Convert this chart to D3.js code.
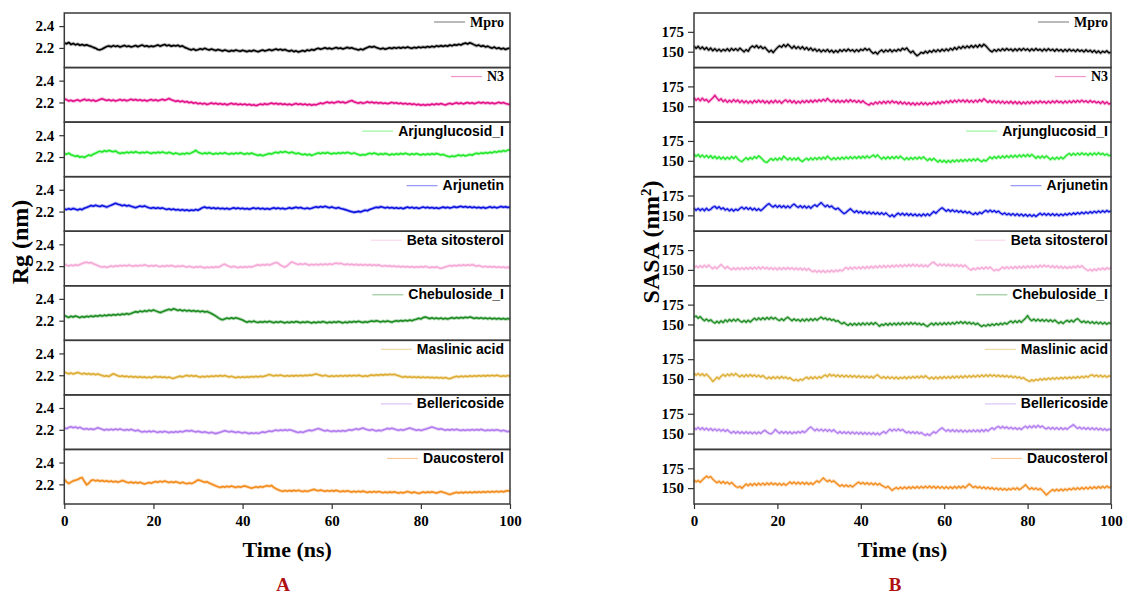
<!DOCTYPE html>
<html>
<head>
<meta charset="utf-8">
<script src="https://cdn.jsdelivr.net/npm/d3@7"></script>
<style>
  body { margin: 0; background: #fff; }
  svg { display: block; }
</style>
</head>
<body>
<svg id="chart" width="1123" height="594"></svg>
<script>
// Systems shown in each stacked row (top to bottom)
const compounds = ["Mpro", "N3", "Arjunglucosid_I", "Arjunetin", "Beta sitosterol",
                   "Chebuloside_I", "Maslinic acid", "Bellericoside", "Daucosterol"];
const seriesColors = ["#000000", "#e3128a", "#22e82a", "#0c12e0", "#f5a9d6",
                      "#1c8c20", "#ddad33", "#b27cee", "#f38b1c"];

const timeTicks = [0, 20, 40, 60, 80, 100];
const rgTicks = [2.2, 2.4];
const sasaTicks = [150, 175];
const timeStepNs = 0.5; // one frame every 0.5 ns, 0 to 100 ns

// Radius of gyration (nm)
const rgMpro = [2.245,2.238,2.250,2.232,2.241,2.228,2.236,2.224,2.231,2.222,2.228,
2.220,2.214,2.205,2.198,2.186,2.182,2.190,2.201,2.212,2.218,
2.210,2.221,2.213,2.219,2.208,2.216,2.223,2.212,2.218,2.209,
2.215,2.222,2.211,2.220,2.226,2.214,2.219,2.210,2.217,2.212,
2.219,2.227,2.216,2.224,2.231,2.220,2.226,2.215,2.223,2.218,
2.224,2.212,2.219,2.205,2.198,2.188,2.182,2.190,2.178,2.184,
2.192,2.185,2.196,2.188,2.181,2.190,2.183,2.176,2.185,2.179,
2.172,2.181,2.175,2.168,2.177,2.171,2.180,2.174,2.169,2.178,
2.172,2.166,2.175,2.169,2.178,2.171,2.165,2.174,2.180,2.172,
2.178,2.185,2.176,2.183,2.190,2.181,2.187,2.179,2.186,2.176,
2.170,2.178,2.166,2.173,2.162,2.169,2.176,2.168,2.181,2.175,
2.186,2.179,2.190,2.197,2.188,2.194,2.201,2.192,2.198,2.190,
2.196,2.203,2.194,2.200,2.191,2.198,2.205,2.196,2.202,2.193,
2.188,2.181,2.190,2.183,2.195,2.204,2.212,2.206,2.214,2.203,
2.196,2.190,2.198,2.188,2.195,2.201,2.194,2.203,2.197,2.205,
2.198,2.206,2.200,2.209,2.201,2.196,2.205,2.199,2.208,2.202,
2.209,2.203,2.212,2.206,2.215,2.208,2.219,2.212,2.221,2.214,
2.222,2.215,2.226,2.219,2.230,2.224,2.233,2.227,2.238,2.244,
2.236,2.247,2.239,2.228,2.219,2.226,2.214,2.221,2.209,2.216,
2.205,2.198,2.208,2.194,2.201,2.189,2.197,2.186,2.194,2.198];

const rgN3 = [2.233,2.226,2.214,2.220,2.211,2.218,2.224,2.213,2.221,2.229,2.219,
2.226,2.215,2.222,2.212,2.219,2.228,2.234,2.226,2.218,2.225,
2.216,2.223,2.214,2.220,2.227,2.218,2.224,2.215,2.222,2.230,
2.221,2.228,2.218,2.225,2.216,2.222,2.213,2.220,2.227,2.217,
2.224,2.215,2.222,2.229,2.220,2.227,2.236,2.225,2.218,2.210,
2.216,2.207,2.213,2.203,2.209,2.198,2.204,2.193,2.199,2.188,
2.194,2.185,2.192,2.181,2.188,2.196,2.187,2.193,2.184,2.190,
2.181,2.188,2.178,2.185,2.192,2.183,2.189,2.180,2.187,2.179,
2.186,2.177,2.183,2.174,2.180,2.171,2.178,2.186,2.180,2.189,
2.181,2.188,2.195,2.186,2.192,2.183,2.190,2.181,2.187,2.179,
2.185,2.177,2.184,2.191,2.182,2.188,2.179,2.186,2.177,2.183,
2.175,2.182,2.178,2.187,2.195,2.188,2.197,2.204,2.196,2.203,
2.195,2.202,2.208,2.199,2.205,2.196,2.203,2.212,2.218,2.207,
2.199,2.193,2.201,2.192,2.198,2.206,2.197,2.204,2.195,2.201,
2.192,2.199,2.190,2.196,2.188,2.194,2.201,2.192,2.198,2.189,
2.195,2.186,2.192,2.184,2.190,2.181,2.187,2.178,2.184,2.175,
2.181,2.174,2.182,2.176,2.186,2.179,2.188,2.181,2.190,2.183,
2.177,2.185,2.192,2.184,2.191,2.198,2.189,2.196,2.187,2.194,
2.200,2.191,2.198,2.189,2.196,2.203,2.194,2.201,2.192,2.199,
2.190,2.197,2.188,2.195,2.202,2.193,2.199,2.190,2.186,2.178];

const rgArjunglucosid = [2.232,2.225,2.236,2.221,2.214,2.206,2.212,2.198,2.205,2.196,2.208,
2.219,2.212,2.226,2.234,2.245,2.252,2.246,2.258,2.250,2.261,
2.254,2.248,2.256,2.241,2.233,2.240,2.236,2.245,2.238,2.247,
2.240,2.249,2.242,2.236,2.244,2.238,2.247,2.240,2.233,2.242,
2.236,2.245,2.238,2.247,2.240,2.234,2.243,2.236,2.228,2.237,
2.230,2.224,2.233,2.227,2.236,2.229,2.238,2.248,2.262,2.244,
2.236,2.229,2.238,2.231,2.240,2.233,2.226,2.235,2.228,2.237,
2.230,2.239,2.232,2.226,2.235,2.228,2.237,2.230,2.239,2.232,
2.225,2.234,2.227,2.236,2.228,2.221,2.215,2.222,2.212,2.219,
2.226,2.233,2.227,2.238,2.244,2.237,2.249,2.242,2.251,2.243,
2.236,2.245,2.238,2.230,2.236,2.228,2.221,2.227,2.218,2.225,
2.214,2.222,2.230,2.238,2.231,2.240,2.233,2.242,2.235,2.228,
2.237,2.230,2.239,2.232,2.241,2.234,2.243,2.236,2.229,2.238,
2.230,2.222,2.216,2.223,2.218,2.227,2.234,2.228,2.236,2.229,
2.222,2.231,2.224,2.233,2.226,2.219,2.228,2.221,2.230,2.224,
2.233,2.226,2.235,2.228,2.221,2.230,2.223,2.232,2.225,2.218,
2.227,2.220,2.229,2.222,2.231,2.224,2.233,2.226,2.219,2.224,
2.215,2.208,2.202,2.210,2.204,2.212,2.219,2.211,2.218,2.210,
2.217,2.224,2.216,2.228,2.235,2.229,2.238,2.232,2.241,2.235,
2.244,2.238,2.250,2.243,2.254,2.248,2.259,2.252,2.263,2.268];

const rgArjunetin = [2.224,2.218,2.227,2.220,2.229,2.222,2.215,2.224,2.218,2.231,2.238,
2.246,2.255,2.249,2.258,2.252,2.246,2.255,2.248,2.241,2.250,
2.258,2.267,2.276,2.268,2.262,2.254,2.260,2.251,2.257,2.248,
2.242,2.236,2.244,2.251,2.245,2.252,2.243,2.236,2.230,2.237,
2.229,2.236,2.228,2.234,2.226,2.219,2.226,2.217,2.223,2.214,
2.220,2.211,2.218,2.209,2.216,2.208,2.215,2.210,2.219,2.212,
2.224,2.236,2.242,2.233,2.238,2.229,2.235,2.227,2.233,2.225,
2.231,2.223,2.230,2.222,2.228,2.235,2.227,2.233,2.225,2.231,
2.223,2.229,2.221,2.228,2.234,2.226,2.232,2.224,2.230,2.222,
2.229,2.221,2.228,2.235,2.227,2.233,2.225,2.231,2.223,2.229,
2.236,2.228,2.234,2.240,2.232,2.238,2.230,2.226,2.233,2.225,
2.231,2.238,2.244,2.237,2.246,2.240,2.248,2.241,2.235,2.243,
2.236,2.230,2.237,2.229,2.224,2.218,2.212,2.204,2.199,2.193,
2.197,2.202,2.196,2.205,2.213,2.208,2.219,2.226,2.233,2.240,
2.236,2.245,2.239,2.233,2.240,2.232,2.238,2.230,2.236,2.229,
2.235,2.227,2.234,2.241,2.233,2.239,2.231,2.237,2.229,2.235,
2.242,2.234,2.240,2.232,2.238,2.230,2.236,2.228,2.235,2.241,
2.234,2.240,2.232,2.238,2.245,2.237,2.243,2.248,2.240,2.246,
2.238,2.244,2.236,2.242,2.234,2.240,2.232,2.239,2.231,2.237,
2.244,2.236,2.242,2.234,2.240,2.247,2.239,2.245,2.237,2.243];

const rgBetaSitosterol = [2.218,2.209,2.201,2.210,2.203,2.212,2.206,2.215,2.224,2.232,2.236,
2.228,2.234,2.222,2.214,2.205,2.197,2.190,2.196,2.188,2.195,
2.202,2.195,2.204,2.198,2.207,2.201,2.209,2.202,2.211,2.204,
2.198,2.207,2.200,2.209,2.203,2.212,2.205,2.198,2.206,2.200,
2.208,2.201,2.195,2.203,2.197,2.205,2.199,2.207,2.200,2.194,
2.202,2.196,2.204,2.197,2.191,2.199,2.193,2.187,2.195,2.189,
2.196,2.190,2.184,2.192,2.186,2.193,2.187,2.195,2.189,2.198,
2.212,2.218,2.206,2.197,2.190,2.198,2.192,2.186,2.194,2.188,
2.195,2.189,2.196,2.191,2.199,2.207,2.213,2.206,2.215,2.209,
2.217,2.210,2.218,2.226,2.234,2.226,2.210,2.198,2.191,2.203,
2.222,2.238,2.231,2.221,2.214,2.222,2.215,2.223,2.216,2.209,
2.217,2.210,2.218,2.211,2.219,2.212,2.220,2.213,2.221,2.215,
2.222,2.228,2.221,2.227,2.219,2.213,2.220,2.212,2.218,2.210,
2.217,2.209,2.216,2.208,2.215,2.207,2.214,2.206,2.213,2.205,
2.212,2.204,2.199,2.206,2.198,2.204,2.196,2.202,2.194,2.200,
2.192,2.199,2.191,2.197,2.190,2.196,2.188,2.195,2.189,2.197,
2.190,2.198,2.192,2.186,2.193,2.187,2.194,2.185,2.179,2.186,
2.193,2.199,2.206,2.200,2.208,2.202,2.210,2.204,2.212,2.205,
2.213,2.206,2.214,2.207,2.199,2.206,2.198,2.192,2.199,2.191,
2.197,2.190,2.196,2.188,2.194,2.187,2.193,2.185,2.191,2.184];

const rgChebuloside = [2.248,2.238,2.230,2.241,2.233,2.243,2.236,2.228,2.238,2.231,2.241,
2.235,2.244,2.237,2.246,2.240,2.249,2.242,2.251,2.245,2.254,
2.248,2.257,2.250,2.259,2.253,2.262,2.256,2.265,2.258,2.267,
2.275,2.283,2.277,2.288,2.281,2.292,2.285,2.296,2.289,2.298,
2.290,2.282,2.274,2.281,2.290,2.297,2.304,2.297,2.310,2.302,
2.294,2.301,2.290,2.297,2.288,2.295,2.286,2.293,2.284,2.290,
2.281,2.288,2.279,2.285,2.276,2.266,2.255,2.242,2.228,2.215,
2.208,2.216,2.224,2.218,2.226,2.219,2.227,2.221,2.214,2.206,
2.195,2.186,2.194,2.188,2.196,2.189,2.183,2.191,2.185,2.193,
2.186,2.194,2.188,2.182,2.190,2.184,2.192,2.186,2.180,2.188,
2.182,2.190,2.184,2.193,2.187,2.181,2.189,2.183,2.191,2.185,
2.179,2.187,2.181,2.189,2.183,2.192,2.186,2.180,2.188,2.182,
2.190,2.184,2.192,2.186,2.180,2.188,2.182,2.191,2.185,2.193,
2.187,2.195,2.189,2.183,2.191,2.185,2.193,2.198,2.192,2.200,
2.194,2.188,2.196,2.190,2.198,2.192,2.186,2.194,2.200,2.194,
2.202,2.196,2.204,2.198,2.206,2.200,2.208,2.214,2.222,2.216,
2.228,2.234,2.226,2.219,2.226,2.218,2.225,2.217,2.224,2.216,
2.223,2.215,2.222,2.228,2.221,2.229,2.222,2.230,2.224,2.232,
2.226,2.234,2.228,2.221,2.228,2.220,2.227,2.219,2.225,2.217,
2.224,2.216,2.223,2.215,2.222,2.214,2.221,2.213,2.220,2.214];

const rgMaslinic = [2.230,2.221,2.213,2.220,2.212,2.219,2.226,2.218,2.211,2.218,2.209,
2.216,2.207,2.214,2.205,2.212,2.204,2.197,2.190,2.196,2.188,
2.203,2.214,2.205,2.196,2.189,2.195,2.186,2.192,2.184,2.190,
2.182,2.188,2.180,2.187,2.179,2.185,2.177,2.184,2.176,2.183,
2.189,2.181,2.187,2.179,2.185,2.177,2.183,2.175,2.171,2.179,
2.186,2.192,2.185,2.193,2.199,2.191,2.198,2.190,2.196,2.188,
2.182,2.190,2.184,2.192,2.186,2.194,2.188,2.196,2.190,2.197,
2.191,2.198,2.190,2.184,2.191,2.183,2.178,2.185,2.179,2.186,
2.180,2.187,2.181,2.189,2.183,2.190,2.184,2.192,2.186,2.194,
2.199,2.206,2.200,2.194,2.201,2.195,2.202,2.196,2.190,2.197,
2.191,2.198,2.192,2.199,2.193,2.200,2.194,2.201,2.196,2.203,
2.199,2.207,2.212,2.205,2.199,2.193,2.200,2.194,2.188,2.195,
2.189,2.196,2.190,2.197,2.191,2.198,2.192,2.199,2.193,2.200,
2.194,2.201,2.195,2.189,2.196,2.190,2.197,2.203,2.197,2.204,
2.199,2.206,2.201,2.208,2.203,2.210,2.204,2.209,2.202,2.196,
2.188,2.182,2.189,2.181,2.187,2.180,2.186,2.179,2.185,2.178,
2.184,2.177,2.183,2.176,2.182,2.175,2.181,2.174,2.180,2.173,
2.179,2.172,2.168,2.176,2.183,2.190,2.184,2.192,2.186,2.193,
2.187,2.195,2.189,2.196,2.190,2.197,2.191,2.198,2.192,2.199,
2.193,2.200,2.194,2.201,2.195,2.189,2.196,2.190,2.197,2.191];

const rgBellericoside = [2.218,2.210,2.222,2.228,2.219,2.226,2.215,2.223,2.211,2.204,2.211,
2.203,2.210,2.202,2.209,2.219,2.212,2.204,2.197,2.205,2.198,
2.206,2.199,2.207,2.200,2.208,2.201,2.195,2.203,2.196,2.204,
2.197,2.190,2.198,2.186,2.179,2.186,2.180,2.188,2.181,2.189,
2.182,2.176,2.184,2.178,2.186,2.180,2.174,2.182,2.176,2.184,
2.178,2.186,2.180,2.188,2.193,2.187,2.194,2.186,2.180,2.187,
2.181,2.175,2.182,2.176,2.170,2.177,2.171,2.165,2.172,2.178,
2.185,2.192,2.186,2.180,2.187,2.181,2.175,2.182,2.176,2.170,
2.177,2.171,2.165,2.172,2.166,2.173,2.167,2.174,2.181,2.175,
2.183,2.190,2.184,2.192,2.198,2.192,2.199,2.193,2.200,2.194,
2.201,2.195,2.188,2.181,2.175,2.182,2.176,2.184,2.191,2.197,
2.191,2.198,2.205,2.212,2.204,2.196,2.190,2.197,2.190,2.184,
2.191,2.185,2.192,2.186,2.193,2.187,2.194,2.201,2.195,2.203,
2.209,2.202,2.210,2.216,2.208,2.201,2.195,2.202,2.196,2.190,
2.197,2.191,2.198,2.205,2.213,2.207,2.215,2.208,2.201,2.195,
2.202,2.196,2.203,2.210,2.216,2.209,2.202,2.195,2.201,2.194,
2.200,2.206,2.212,2.219,2.226,2.218,2.211,2.204,2.210,2.203,
2.196,2.203,2.197,2.204,2.198,2.205,2.199,2.193,2.200,2.194,
2.201,2.195,2.202,2.196,2.203,2.197,2.204,2.198,2.192,2.199,
2.193,2.200,2.194,2.201,2.195,2.188,2.195,2.189,2.183,2.187];

const rgDaucosterol = [2.248,2.222,2.208,2.220,2.232,2.238,2.244,2.256,2.262,2.228,2.196,
2.210,2.235,2.241,2.232,2.238,2.229,2.236,2.227,2.233,2.224,
2.231,2.222,2.229,2.220,2.227,2.236,2.228,2.220,2.214,2.221,
2.213,2.220,2.212,2.219,2.211,2.204,2.210,2.217,2.211,2.219,
2.226,2.219,2.228,2.222,2.230,2.223,2.216,2.224,2.217,2.225,
2.218,2.211,2.219,2.212,2.206,2.213,2.207,2.215,2.228,2.241,
2.235,2.227,2.219,2.224,2.213,2.204,2.195,2.186,2.178,2.172,
2.180,2.174,2.182,2.176,2.184,2.178,2.172,2.180,2.174,2.181,
2.186,2.179,2.172,2.165,2.171,2.178,2.172,2.180,2.174,2.182,
2.188,2.182,2.190,2.172,2.160,2.150,2.142,2.136,2.143,2.137,
2.144,2.138,2.145,2.139,2.146,2.140,2.134,2.141,2.135,2.142,
2.148,2.154,2.147,2.141,2.148,2.142,2.136,2.143,2.137,2.144,
2.138,2.145,2.139,2.133,2.140,2.134,2.141,2.135,2.129,2.136,
2.130,2.137,2.131,2.138,2.132,2.126,2.133,2.127,2.134,2.128,
2.135,2.129,2.123,2.130,2.124,2.131,2.125,2.132,2.126,2.120,
2.127,2.121,2.128,2.134,2.128,2.122,2.129,2.123,2.117,2.124,
2.130,2.124,2.131,2.125,2.132,2.126,2.120,2.127,2.134,2.128,
2.121,2.114,2.108,2.115,2.121,2.127,2.121,2.128,2.122,2.129,
2.123,2.130,2.124,2.131,2.125,2.132,2.126,2.133,2.127,2.134,
2.128,2.135,2.129,2.136,2.130,2.137,2.131,2.138,2.142,2.139];

// Solvent accessible surface area (nm^2)
const sasaMpro = [157.2,154.1,156.8,153.5,155.9,152.8,155.3,151.9,154.6,151.2,153.8,
150.9,153.2,150.4,152.9,151.1,153.7,150.8,154.2,151.6,153.9,
151.3,154.5,152.2,149.8,152.6,150.4,155.1,157.3,155.2,157.8,
154.6,156.9,153.8,155.7,152.4,149.6,151.8,148.9,152.3,155.1,
157.4,155.6,158.9,156.2,159.3,156.8,154.2,157.1,153.9,156.4,
153.5,156.2,152.8,155.4,152.1,154.7,151.3,153.6,150.4,152.8,
149.7,152.3,150.1,152.9,149.5,151.8,148.9,151.6,149.2,152.4,
150.3,152.9,150.6,153.3,150.8,152.4,149.9,152.6,150.2,153.1,
151.5,154.2,151.8,153.6,150.1,147.8,149.6,146.9,150.3,152.1,
149.4,152.2,150.1,152.7,149.8,152.3,150.5,153.1,151.2,154.3,
152.4,154.8,151.2,148.6,150.9,147.3,144.8,146.9,149.2,147.8,
150.6,148.4,151.2,149.3,152.1,149.8,152.6,150.2,153.0,150.7,
153.4,151.1,154.2,152.0,155.3,152.8,156.1,153.9,156.8,154.5,
157.2,154.9,157.8,155.3,158.1,155.6,158.7,156.2,159.4,157.1,
154.2,151.3,149.8,152.6,150.4,153.2,151.0,153.8,151.5,154.1,
151.8,153.4,150.9,153.6,151.2,153.9,151.5,154.2,151.7,153.5,
150.9,153.6,151.3,154.0,151.6,153.2,150.8,153.5,151.1,153.8,
151.4,153.1,150.6,153.3,150.9,152.7,150.2,152.9,150.5,153.2,
150.8,152.5,150.1,152.8,150.4,152.1,149.7,152.4,150.0,151.8,
149.3,151.6,148.7,150.9,148.2,150.6,149.1,151.2,148.4,149.6];

const sasaN3 = [160.8,157.4,159.9,156.8,160.2,157.1,158.6,155.3,157.9,160.4,163.8,
160.2,157.1,159.4,155.8,158.1,154.9,157.6,155.2,158.3,155.7,
157.9,154.6,157.2,154.3,156.8,153.9,156.5,154.1,157.3,154.8,
157.6,154.9,157.2,154.1,156.7,153.8,156.9,154.2,157.5,154.6,
156.8,153.7,156.3,158.1,155.2,157.6,154.4,156.9,153.8,156.4,
154.1,157.0,154.5,157.3,154.8,157.6,155.1,157.9,155.6,158.2,
156.1,158.7,156.4,159.8,157.2,155.4,157.8,155.1,157.6,154.9,
157.3,155.0,157.8,155.3,158.1,155.6,157.4,154.8,157.2,154.5,
156.9,154.2,152.8,151.5,154.1,152.3,155.2,153.1,155.8,153.4,
156.2,153.7,156.5,154.0,156.8,154.3,155.9,153.2,155.6,152.9,
155.1,152.4,154.7,151.9,154.3,151.6,154.1,152.0,154.8,152.2,
154.5,151.8,154.2,152.5,155.1,152.8,155.6,153.2,156.1,153.9,
156.6,154.3,157.2,154.8,157.6,155.2,158.0,155.6,157.9,155.3,
157.8,155.1,157.4,154.9,157.7,155.3,158.2,156.0,159.4,157.1,
154.8,157.2,154.5,156.9,154.2,156.7,153.9,156.4,153.6,156.1,
153.8,156.3,153.5,155.9,153.2,155.7,152.9,155.4,153.1,155.8,
153.4,156.0,153.7,156.3,154.0,156.6,154.3,156.1,153.8,156.4,
154.1,156.7,154.4,157.0,154.6,156.3,153.9,156.5,154.2,156.8,
154.5,157.1,154.8,157.4,155.1,157.7,155.3,156.9,154.6,157.2,
154.9,156.5,154.2,155.8,153.5,156.1,153.2,155.4,152.7,154.1];

const sasaArjunglucosid = [158.3,155.6,157.9,154.8,157.2,154.3,156.8,153.9,156.4,153.2,155.7,
152.6,155.1,152.3,154.7,151.9,154.4,152.1,155.3,152.8,155.6,
152.4,150.1,148.9,151.6,153.8,151.4,154.2,152.1,155.3,153.0,
156.2,154.1,151.3,148.7,147.9,150.6,152.8,150.5,153.2,150.8,
153.6,151.2,155.8,153.4,151.1,153.7,150.9,153.4,151.1,153.8,
150.6,148.9,151.4,153.2,150.8,153.5,151.2,154.0,151.7,154.3,
151.9,154.6,152.3,155.9,153.4,151.2,153.8,151.5,154.1,151.8,
154.5,152.1,154.8,152.4,155.1,152.7,155.3,152.9,155.6,153.2,
155.8,153.4,156.1,153.7,155.4,157.2,154.8,157.5,154.6,152.1,
154.7,152.3,155.0,152.6,155.2,152.8,155.5,153.1,155.8,153.4,
151.2,153.8,151.5,154.1,151.8,154.4,152.1,154.7,152.4,155.0,
152.6,150.2,152.9,150.5,153.1,150.8,148.4,150.9,148.3,150.6,
147.8,150.4,148.1,150.9,148.6,151.2,148.9,151.5,149.2,151.8,
149.5,152.1,149.8,152.4,150.1,152.7,150.4,148.9,151.2,149.6,
152.3,154.8,152.5,155.3,153.0,155.7,153.4,156.1,153.8,156.4,
154.0,156.7,154.3,157.0,154.6,157.3,154.9,157.6,155.2,157.9,
155.4,158.1,155.7,153.2,155.8,153.4,156.0,153.6,156.2,153.8,
151.5,154.1,151.8,154.4,152.1,154.7,152.4,155.0,157.6,159.2,
156.8,159.4,157.1,159.7,157.4,160.0,157.7,159.3,156.9,159.5,
157.2,159.8,157.5,160.1,157.8,159.4,157.0,158.6,156.3,157.8];

const sasaArjunetin = [159.1,156.4,158.8,156.1,158.5,155.8,158.9,156.3,157.7,160.2,161.4,
158.6,160.9,157.8,159.5,156.7,158.3,155.6,157.9,155.4,157.8,
156.2,158.7,160.4,157.8,160.1,157.5,159.6,156.8,158.9,156.2,
158.4,155.9,158.1,160.6,163.1,164.8,162.2,160.4,162.8,160.1,
162.4,159.8,162.1,159.6,161.9,159.4,162.3,164.2,161.7,159.9,
162.1,159.5,161.8,159.3,161.6,159.0,161.4,163.3,161.2,163.8,
166.1,163.2,160.8,162.9,160.3,161.8,159.1,157.6,159.2,156.8,
154.3,152.1,153.8,156.2,158.4,155.9,153.6,155.8,153.2,155.1,
152.6,154.7,152.1,154.4,151.8,153.9,151.5,153.6,151.2,153.4,
150.9,153.1,150.6,148.4,150.7,148.2,150.9,152.8,150.4,152.6,
150.1,152.3,149.8,152.0,149.6,151.8,149.3,151.5,149.1,151.7,
149.4,151.9,149.6,152.4,154.9,152.6,155.3,157.8,159.6,157.4,
155.1,157.3,154.8,156.9,154.5,156.2,153.9,155.8,153.4,155.2,
152.8,154.6,152.3,151.1,153.4,151.2,153.9,152.1,154.6,156.3,
154.1,156.6,154.3,156.0,153.7,155.4,152.9,151.3,153.0,150.6,
152.4,150.1,152.2,149.8,151.9,149.5,151.6,149.2,151.3,148.9,
151.0,148.7,150.8,148.5,150.6,152.7,150.3,152.4,150.1,152.2,
149.9,152.0,149.7,151.8,149.5,151.6,149.8,152.1,150.3,152.6,
150.8,153.1,151.2,153.5,151.6,153.9,152.0,154.3,152.4,154.7,
152.8,155.1,153.2,155.5,153.6,155.9,153.9,156.2,154.4,155.6];

const sasaBetaSitosterol = [152.5,155.1,152.8,155.4,153.1,155.9,153.4,156.1,153.6,151.4,153.9,
151.6,154.2,156.8,154.1,151.8,154.3,151.9,150.2,152.6,150.3,
152.8,150.5,152.9,150.6,153.1,150.8,153.3,150.9,153.4,151.1,
153.6,151.2,153.8,151.4,153.1,150.7,152.9,150.4,152.6,150.2,
152.7,150.4,152.9,150.6,153.1,150.7,152.8,150.3,152.5,150.1,
152.3,149.8,152.1,149.5,151.8,149.2,147.6,149.4,147.1,149.3,
147.0,149.2,146.8,149.1,147.3,149.6,147.5,149.8,147.9,150.2,
148.6,151.1,153.2,150.8,153.4,151.0,153.6,151.3,153.8,151.5,
154.1,151.8,154.4,152.1,154.7,152.4,155.0,152.6,155.2,152.9,
155.5,153.1,155.7,153.3,155.9,153.6,156.2,153.8,156.4,154.0,
156.6,154.2,156.9,154.5,157.1,154.7,156.8,154.3,156.5,154.1,
156.3,154.0,156.6,158.8,159.9,157.2,155.3,157.5,155.1,157.3,
154.9,157.1,154.7,156.9,154.5,156.7,154.3,156.4,153.9,156.1,
153.5,151.2,149.8,152.1,150.3,152.7,151.0,153.4,151.2,153.6,
151.4,153.8,151.1,148.9,150.6,149.2,151.5,153.6,151.4,153.9,
151.6,154.1,151.8,154.3,152.0,154.5,152.2,154.7,152.4,154.9,
152.6,155.1,152.8,155.3,153.0,155.8,153.5,156.1,153.8,155.4,
152.9,155.2,152.7,154.9,152.4,154.6,152.1,154.3,151.9,154.1,
152.3,154.6,152.6,155.2,153.1,155.4,152.8,150.6,148.9,150.8,
148.7,151.2,149.3,151.8,150.1,152.4,150.2,152.7,151.1,153.0];

const sasaChebuloside = [159.4,160.6,157.8,159.9,156.9,154.6,156.8,154.2,155.9,153.4,151.6,
154.1,151.9,154.6,152.3,155.8,153.4,156.2,154.0,156.5,154.2,
156.8,154.4,152.9,155.1,152.8,155.3,153.0,155.6,157.8,155.5,
158.1,155.9,158.4,156.2,158.8,156.5,159.1,156.8,158.6,156.2,
154.8,157.3,154.9,157.5,159.2,156.8,154.6,157.1,154.8,156.4,
154.1,156.6,154.3,156.9,154.6,157.2,154.9,157.4,155.2,157.6,
159.3,156.8,158.2,155.7,157.4,155.1,156.3,153.8,154.9,152.4,
150.8,152.6,150.3,148.9,151.2,149.0,151.4,149.1,151.6,149.3,
151.8,149.5,152.0,149.7,152.2,149.9,152.4,150.1,147.8,150.2,
148.9,151.3,149.0,151.5,149.2,151.7,149.4,151.9,149.6,152.1,
149.8,152.3,150.0,152.5,150.2,152.2,149.9,151.6,149.3,151.0,
148.7,147.4,149.8,151.6,149.3,151.8,149.5,152.0,149.7,152.2,
149.9,152.4,150.1,152.6,150.4,153.1,151.4,153.6,151.2,153.3,
150.9,152.8,150.5,152.2,149.8,151.6,149.2,147.4,149.3,147.8,
150.1,148.3,150.6,148.8,151.1,149.3,151.6,149.8,152.1,150.4,
152.6,154.3,152.0,154.6,152.3,154.9,152.6,155.4,157.8,161.2,
156.9,154.6,156.8,154.4,156.6,154.2,156.3,153.9,156.1,153.7,
155.8,153.5,155.6,153.3,151.4,153.4,151.1,153.6,155.2,153.1,
155.4,153.2,155.9,157.4,154.8,152.6,154.4,152.1,153.9,151.6,
153.4,151.2,153.1,150.9,152.8,150.6,152.5,150.3,152.2,150.8];

const sasaMaslinic = [157.5,154.8,157.1,154.3,156.6,153.9,156.2,153.4,150.6,146.8,149.2,
152.4,150.1,153.6,155.8,153.5,156.2,154.1,156.7,154.3,156.9,
154.6,152.8,155.1,152.9,155.4,153.1,155.6,153.3,155.2,152.9,
154.8,152.4,154.5,151.9,150.4,152.6,150.3,152.8,150.5,153.0,
150.7,153.2,150.9,152.6,150.2,151.8,149.4,147.9,149.6,147.6,
149.8,148.4,150.6,152.4,150.1,152.6,150.3,152.8,150.5,153.0,
151.2,153.6,155.1,152.9,156.2,153.8,155.4,153.1,155.2,152.8,
154.9,152.6,154.7,152.4,154.5,152.2,154.3,152.0,154.1,151.8,
153.9,151.6,153.7,151.4,153.5,151.2,153.8,155.4,152.8,150.9,
153.1,150.7,152.9,150.5,152.7,150.3,152.5,150.1,152.3,150.6,
152.8,150.4,153.0,150.9,153.3,151.2,153.6,151.4,153.9,151.7,
154.2,151.9,150.2,152.4,150.1,152.6,150.3,152.8,150.6,153.1,
150.8,153.3,151.0,153.5,151.2,153.7,151.4,153.9,151.6,154.1,
151.9,154.3,152.1,154.5,152.4,154.8,152.7,155.1,153.0,155.3,
153.2,155.5,153.4,155.2,153.1,154.9,152.8,154.6,152.5,154.3,
152.2,154.0,151.7,153.5,151.2,152.8,150.4,151.9,149.6,148.2,
146.9,149.1,147.4,149.6,148.1,150.3,148.6,150.8,149.0,151.2,
149.3,151.5,149.6,151.8,149.9,152.1,150.2,152.4,150.4,152.6,
150.6,152.8,150.9,153.1,151.2,153.4,151.5,153.7,152.2,154.6,
155.3,153.1,155.0,152.8,154.7,152.5,154.4,152.3,154.1,153.2];

const sasaBellericoside = [157.5,155.2,157.8,155.0,157.3,154.6,156.9,154.2,156.4,153.8,155.9,
153.4,155.6,153.1,155.2,152.7,154.9,152.4,150.6,152.8,150.4,
152.6,150.2,152.4,150.1,152.3,150.0,152.1,149.8,151.9,149.7,
152.1,150.0,152.5,154.3,151.9,150.2,149.6,151.8,155.2,152.6,
150.4,152.7,150.3,152.5,150.1,152.3,149.9,152.1,150.4,152.6,
150.8,153.1,151.2,153.6,156.4,158.3,155.9,153.6,155.8,153.4,
155.6,153.1,155.3,152.9,155.0,152.6,154.8,152.3,150.4,152.6,
150.2,152.4,150.0,152.2,149.8,152.0,149.6,151.8,149.4,151.6,
149.2,151.4,149.0,151.2,148.8,151.0,148.6,150.8,148.4,150.9,
152.6,150.3,153.1,155.4,153.2,155.6,153.4,155.8,153.6,155.2,
152.8,150.9,152.6,150.3,152.4,150.1,152.2,149.8,151.4,149.2,
147.8,149.6,147.5,150.2,152.4,150.6,153.1,155.4,157.2,154.9,
152.8,155.0,152.6,154.8,152.4,154.6,152.2,154.4,152.0,154.2,
152.1,154.3,152.2,154.5,152.4,154.6,152.3,154.8,152.6,155.1,
153.0,155.4,157.2,155.0,157.6,159.1,156.8,158.9,156.6,158.4,
156.1,157.9,155.7,157.4,155.3,157.1,155.0,157.6,159.3,157.0,
159.6,157.3,159.9,157.6,160.4,157.8,159.5,157.2,155.8,157.9,
155.6,157.7,155.4,157.5,155.2,157.3,155.0,157.1,155.3,157.8,
159.4,161.3,158.6,156.3,158.1,155.8,157.6,155.3,157.4,155.1,
157.2,154.9,156.9,154.6,156.6,154.3,156.2,154.0,155.8,154.4];

const sasaDaucosterol = [160.2,157.9,159.6,157.4,160.3,162.8,165.1,163.2,164.6,161.3,158.9,
156.7,158.8,156.2,158.4,155.8,157.6,155.1,157.2,154.6,152.1,
150.8,152.3,149.9,152.6,155.2,153.0,155.6,153.3,155.9,153.6,
156.1,153.8,156.3,154.0,156.5,154.2,156.7,154.4,156.2,153.9,
156.0,153.7,155.8,153.5,155.6,157.8,155.4,157.6,155.2,157.4,
155.1,157.3,154.9,157.1,154.7,156.9,154.6,157.0,159.2,157.3,
160.1,162.8,160.4,158.2,160.1,157.8,159.3,156.9,154.6,152.4,
154.3,152.1,154.0,151.8,153.7,151.5,153.6,155.9,157.6,155.3,
157.2,154.8,156.9,154.5,156.6,154.2,156.3,153.9,155.8,153.4,
152.1,150.4,152.3,149.8,147.2,149.1,150.8,148.9,151.2,149.1,
151.4,149.3,151.6,149.5,151.8,149.7,152.0,149.9,152.2,150.1,
152.4,150.3,152.6,150.1,152.3,149.9,152.1,149.7,151.9,149.5,
151.7,149.4,151.8,149.6,152.1,149.8,152.3,150.1,152.6,150.3,
152.8,155.2,152.9,150.6,152.4,150.1,151.9,149.6,151.4,149.1,
151.0,148.8,150.6,148.3,150.2,147.9,149.8,147.6,149.5,147.4,
149.6,147.8,150.1,148.2,150.4,148.0,149.7,151.8,154.3,151.2,
148.6,150.5,148.2,150.1,147.8,149.6,147.2,144.6,141.3,143.8,
146.2,148.4,146.3,148.6,146.5,148.8,146.7,149.0,147.3,149.5,
147.8,150.2,148.1,150.5,148.4,150.8,148.7,151.1,149.0,151.4,
149.3,151.7,149.6,152.0,149.9,152.3,150.2,152.6,150.5,152.4];

const rgSeries = [rgMpro, rgN3, rgArjunglucosid, rgArjunetin, rgBetaSitosterol,
                  rgChebuloside, rgMaslinic, rgBellericoside, rgDaucosterol];
const sasaSeries = [sasaMpro, sasaN3, sasaArjunglucosid, sasaArjunetin, sasaBetaSitosterol,
                    sasaChebuloside, sasaMaslinic, sasaBellericoside, sasaDaucosterol];

// ---------- drawing ----------
const svg = d3.select("#chart");
const SERIF = "'Liberation Serif', 'Times New Roman', serif";
const SANS = "'Liberation Sans', Arial, sans-serif";
const stackTop = 13, stackBottom = 504;
const serifLegend = new Set(["Mpro", "N3"]);

function drawStack(cfg) {
  const x = d3.scaleLinear().domain([0, 100]).range([cfg.left, cfg.right]);
  const band = d3.scaleBand().domain(d3.range(compounds.length))
    .range([stackTop, stackBottom]).paddingInner(0).paddingOuter(0);
  const ph = band.bandwidth();

  cfg.series.forEach((vals, i) => {
    const top = band(i);
    const y = d3.scaleLinear().domain(cfg.yDomain).range([top + ph, top]);
    const g = svg.append("g");

    const line = d3.line()
      .x((d, k) => x(k * timeStepNs))
      .y(d => y(d));
    // faint wide underlay gives the trace its fuzzy edge
    g.append("path").datum(vals).attr("d", line)
      .attr("fill", "none").attr("stroke", seriesColors[i])
      .attr("stroke-opacity", 0.3).attr("stroke-width", cfg.haloWidth)
      .attr("stroke-linejoin", "round");
    g.append("path").datum(vals).attr("d", line)
      .attr("fill", "none").attr("stroke", seriesColors[i])
      .attr("stroke-width", cfg.lineWidth).attr("stroke-linejoin", "round");

    // panel frame
    g.append("rect").attr("x", cfg.left).attr("y", top)
      .attr("width", cfg.right - cfg.left).attr("height", ph)
      .attr("fill", "none").attr("stroke", "#3a3a3a").attr("stroke-width", 1.5);

    // y axis
    const ay = g.append("g").attr("transform", `translate(${cfg.left},0)`)
      .call(d3.axisLeft(y).tickValues(cfg.yTicks).tickFormat(cfg.yFormat)
        .tickSize(cfg.tickLen).tickPadding(cfg.tickPad));
    ay.select(".domain").remove();
    ay.selectAll("line").attr("stroke", "#333").attr("stroke-width", 1.2);
    ay.selectAll("text").attr("font-family", SERIF).attr("font-weight", "bold")
      .attr("font-size", 15).attr("fill", "#000");

    // legend: short line + label at the top right
    const label = compounds[i];
    const txt = g.append("text")
      .attr("x", cfg.right - cfg.legendPad).attr("y", top + 13.5)
      .attr("text-anchor", "end")
      .attr("font-family", serifLegend.has(label) ? SERIF : SANS)
      .attr("font-weight", "bold").attr("font-size", 14).attr("fill", "#000")
      .text(label);
    const w = txt.node().getComputedTextLength();
    const lx1 = cfg.right - cfg.legendPad - w - 5;
    g.append("line").attr("x1", lx1 - 31).attr("x2", lx1)
      .attr("y1", top + 9).attr("y2", top + 9)
      .attr("stroke", seriesColors[i]).attr("stroke-opacity", 0.45)
      .attr("stroke-width", 1.2);
  });

  // time axis under the last panel
  const ax = svg.append("g").attr("transform", `translate(0,${stackBottom})`)
    .call(d3.axisBottom(x).tickValues(timeTicks).tickSize(5).tickPadding(6));
  ax.select(".domain").remove();
  ax.selectAll("line").attr("stroke", "#333").attr("stroke-width", 1.2);
  ax.selectAll("text").attr("font-family", SERIF).attr("font-weight", "bold")
    .attr("font-size", 15).attr("fill", "#000");

  const cx = (cfg.left + cfg.right) / 2;
  svg.append("text").attr("x", cx).attr("y", 557).attr("text-anchor", "middle")
    .attr("font-family", SERIF).attr("font-weight", "bold").attr("font-size", 22)
    .attr("fill", "#000").text("Time (ns)");

  svg.append("text").attr("x", cfg.letterX).attr("y", 591).attr("text-anchor", "middle")
    .attr("font-family", SERIF).attr("font-weight", "bold").attr("font-size", 19)
    .attr("fill", "#b01010").text(cfg.letter);

  const yl = svg.append("text")
    .attr("transform", `translate(${cfg.yLabelX},242) rotate(-90)`)
    .attr("text-anchor", "middle").attr("font-family", SERIF)
    .attr("font-weight", "bold").attr("font-size", 24).attr("fill", "#000");
  cfg.yLabel(yl);
}

drawStack({
  left: 64.3, right: 510, series: rgSeries, yDomain: [2.02, 2.52],
  yTicks: rgTicks, yFormat: d3.format(".1f"), tickLen: 5, tickPad: 5,
  legendPad: 6, letter: "A", letterX: 283, yLabelX: 28,
  lineWidth: 1.6, haloWidth: 3.4,
  yLabel: t => t.text("Rg (nm)")
});

drawStack({
  left: 694, right: 1111, series: sasaSeries, yDomain: [130, 198.75],
  yTicks: sasaTicks, yFormat: d3.format("d"), tickLen: 6, tickPad: 4,
  legendPad: 3, letter: "B", letterX: 895, yLabelX: 659,
  lineWidth: 1.3, haloWidth: 3.2,
  yLabel: t => {
    t.append("tspan").text("SASA (nm");
    t.append("tspan").attr("baseline-shift", "super").attr("font-size", 15).text("2");
    t.append("tspan").text(")");
  }
});
</script>
</body>
</html>
